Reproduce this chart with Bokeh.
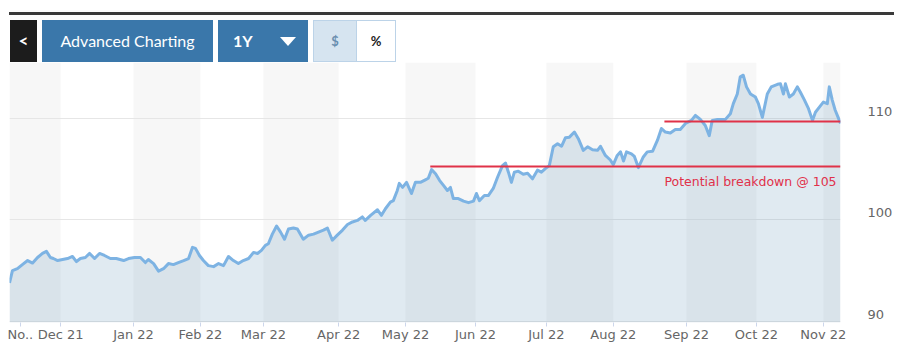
from bokeh.plotting import figure
from bokeh.models import Range1d, FixedTicker, BoxAnnotation, ColumnDataSource, Div, LinearAxis
from bokeh.layouts import column
from bokeh.embed import file_html
from bokeh.resources import INLINE
from bokeh.core.properties import value

# ---- data: trading-day index (ordinal axis) and price ----
day = [0, 0.9, 2.4, 3.9, 5.5, 7.0, 8.5, 10.0, 11.2, 12.4, 13.3, 14.6, 16.1, 17.6, 19.1,
       20.3, 21.5, 23.0, 24.3, 25.8, 27.3, 28.8, 30.6, 32.4, 34.6, 36.1, 37.9, 39.7, 41.2,
       42.1, 43.7, 45.2, 46.7, 48.2, 49.7, 51.2, 52.8, 54.3, 55.5, 56.4, 57.6, 58.8, 60.3,
       61.9, 63.4, 64.9, 66.4, 67.9, 69.4, 70.9, 72.5, 74.0, 75.2, 76.4, 77.6, 78.5, 79.7,
       81.0, 82.2, 83.4, 84.6, 86.1, 87.3, 89.1, 90.7, 92.2, 93.7, 95.2, 96.4, 97.9, 99.4,
       101.0, 102.5, 104.0, 105.5, 107.0, 107.9, 109.5, 111.6, 112.8, 114.0, 115.5, 116.4,
       117.6, 118.2, 119.2, 120.4, 121.9, 123.1, 124.6, 126.1, 127.0, 128.0, 129.2, 130.4,
       131.6, 132.8, 133.7, 134.6, 136.1, 137.7, 139.2, 140.7, 141.6, 142.5, 144.0, 145.2,
       146.7, 148.0, 149.5, 150.4, 151.3, 152.2, 153.1, 154.3, 155.8, 157.1, 158.6, 160.1,
       161.3, 162.5, 163.7, 164.9, 166.2, 167.4, 168.6, 169.8, 171.3, 172.5, 174.0, 175.3,
       176.8, 178.3, 179.2, 180.7, 182.2, 183.1, 184.3, 185.3, 186.2, 187.1, 188.6, 189.5,
       190.7, 192.2, 193.4, 195.0, 196.5, 197.7, 198.9, 200.4, 201.9, 203.4, 205.0, 206.8,
       208.0, 209.5, 211.0, 212.2, 213.1, 214.7, 217.1, 218.6, 219.5, 220.7, 221.6, 222.5,
       223.5, 224.7, 226.2, 227.1, 228.3, 229.8, 231.0, 232.9, 233.8, 234.7, 235.3, 236.5,
       237.7, 238.9, 239.8, 241.0, 242.3, 243.5, 244.4, 245.6, 246.8, 248.0, 248.6, 249.5,
       250.4, 251.4, 252.0]
price = [93.8, 95.0, 95.2, 95.6, 96.0, 95.75, 96.3, 96.7, 96.9, 96.3, 96.2, 96.0, 96.1, 96.2,
         96.4, 95.9, 96.2, 96.3, 96.7, 96.2, 96.7, 96.5, 96.2, 96.2, 96.0, 96.2, 96.3, 96.3,
         95.8, 96.1, 95.7, 94.96, 95.2, 95.7, 95.6, 95.8, 96.0, 96.2, 97.3, 97.2, 96.5, 96.0,
         95.5, 95.4, 95.7, 95.5, 96.4, 96.0, 95.7, 96.0, 96.2, 96.8, 96.7, 97.0, 97.5, 97.65,
         98.6, 99.4, 98.8, 98.1, 99.1, 99.2, 99.1, 98.1, 98.5, 98.6, 98.8, 99.0, 99.2, 98.0,
         98.5, 99.0, 99.55, 99.8, 99.95, 100.3, 99.95, 100.45, 101.0, 100.45, 101.1, 101.75,
         101.9, 102.9, 103.6, 103.2, 103.7, 102.6, 103.7, 103.7, 103.95, 104.1, 104.95,
         104.55, 103.9, 103.4, 102.9, 103.2, 102.1, 102.1, 101.85, 101.7, 101.85, 102.6,
         101.9, 102.4, 102.4, 103.1, 104.2, 105.35, 105.6, 104.7, 103.7, 104.7, 104.8, 104.5,
         104.6, 104.05, 104.9, 104.7, 105.05, 105.35, 107.2, 107.5, 107.25, 108.1, 108.15,
         108.65, 108.0, 106.85, 107.2, 106.9, 106.85, 107.25, 106.35, 105.9, 105.45, 106.35,
         106.7, 105.8, 106.7, 106.5, 106.25, 105.15, 106.2, 106.7, 106.75, 107.85, 109.0,
         108.65, 108.55, 108.9, 108.9, 109.5, 109.8, 110.3, 109.9, 109.3, 108.3, 109.8, 109.9,
         109.9, 110.45, 111.45, 112.4, 114.1, 114.25, 113.1, 112.4, 112.1, 111.45, 110.1,
         112.4, 113.1, 113.35, 113.4, 112.4, 113.4, 112.1, 112.4, 113.1, 112.6, 111.85,
         110.95, 109.8, 110.6, 111.1, 111.6, 111.45, 113.1, 111.8, 110.8, 110.0, 109.5]

month_labels = ["No..", "Dec 21", "Jan 22", "Feb 22", "Mar 22", "Apr 22", "May 22",
                "Jun 22", "Jul 22", "Aug 22", "Sep 22", "Oct 22", "Nov 22"]
month_ticks = [3.3, 15.5, 37.6, 57.9, 77.0, 99.8, 120.1, 141.3, 162.8, 183.1, 205.3,
               226.5, 246.8]
y_ticks = [90, 100, 110]
x_start, x_end = 0, 252
y_start, y_end = 89.9, 115.5

breakdown_level = 105.25
breakdown_start = 127.6
breakdown_text = "Potential breakdown @ 105"
resistance_level = 109.7
resistance_start = 198.6

header_buttons = ["<", "Advanced Charting", "1Y", "$", "%"]

AXIS_FONT = "DejaVu Sans"
FRAME_H = 260
LABEL_RAISE_PX = 7   # value labels sit just above their grid lines

# ---- header (toolbar-like buttons) as HTML ----
btn = ("position:absolute;top:20px;height:42px;display:flex;align-items:center;"
       "justify-content:center;box-sizing:border-box;font-family:Lato,sans-serif;")
header_html = (
    '<div style="position:relative;width:894px;height:62px;background:#fff;">'
    '<div style="position:absolute;left:9px;top:12px;width:885px;height:3px;background:#3a3a3a;"></div>'
    f'<div style="{btn}left:10px;width:27px;background:#1c1c1c;color:#fff;font-size:17px;font-weight:bold;">&lt;</div>'
    f'<div style="{btn}left:42px;width:171px;background:#3a77aa;color:#fff;font-size:16px;">{header_buttons[1]}</div>'
    f'<div style="{btn}left:218px;width:90px;background:#3a77aa;color:#fff;font-size:16px;font-weight:bold;justify-content:flex-start;padding-left:15px;">{header_buttons[2]}'
    '<span style="position:absolute;left:62px;top:17px;width:0;height:0;border-left:8px solid transparent;border-right:8px solid transparent;border-top:9px solid #fff;"></span></div>'
    f'<div style="{btn}left:313px;width:44px;background:#d6e4f0;border:1px solid #bcd3e8;color:#6b8fb0;font-size:13px;font-weight:bold;">{header_buttons[3]}</div>'
    f'<div style="{btn}left:356px;width:40px;background:#fff;border:1px solid #bcd3e8;color:#222;font-size:13px;font-weight:bold;">{header_buttons[4]}</div>'
    '</div>'
)
hdr = Div(text=header_html, width=894, height=62, margin=0)

# ---- chart ----
p = figure(frame_width=831, frame_height=FRAME_H, x_range=Range1d(x_start, x_end),
           y_range=Range1d(y_start, y_end), y_axis_location=None,
           toolbar_location=None, output_backend="svg",
           min_border_left=9, min_border_right=54, min_border_top=0, min_border_bottom=4,
           outline_line_color=None, background_fill_color="white", border_fill_color="white")

# alternating month bands
edges = [x_start] + month_ticks[1:] + [x_end]
for i in range(0, len(edges) - 1, 2):
    p.add_layout(BoxAnnotation(left=edges[i], right=edges[i + 1], fill_color="#f7f7f7",
                               fill_alpha=1, line_color=None, level="image"))

p.xgrid.visible = False
p.ygrid.ticker = FixedTicker(ticks=[t for t in y_ticks if t > y_start])
p.ygrid.grid_line_color = "#e6e6e6"
p.ygrid.grid_line_width = 1

src = ColumnDataSource(dict(day=day, price=price, base=[y_start] * len(day)))
p.varea(x="day", y1="base", y2="price", source=src, fill_color="#6496b9", fill_alpha=0.2)
p.line(x="day", y="price", source=src, line_color="#7db3e3", line_width=3,
       line_join="round")

p.segment(x0=[breakdown_start, resistance_start], x1=[x_end, x_end],
          y0=[breakdown_level, resistance_level], y1=[breakdown_level, resistance_level],
          line_color="#e03248", line_width=2)
p.text(x=[resistance_start], y=[breakdown_level], text=[breakdown_text], y_offset=7,
       text_color="#e0314a", text_font=value("DejaVu Sans"), text_font_size="12.5px",
       text_align="left", text_baseline="top")

xa = p.xaxis[0]
xa.ticker = FixedTicker(ticks=month_ticks)
xa.major_label_overrides = {t: l for t, l in zip(month_ticks, month_labels)}
xa.axis_line_color = None
xa.major_tick_line_color = "#ccd6eb"
xa.major_tick_out = 4
xa.major_tick_in = 0
xa.minor_tick_line_color = None
xa.major_label_standoff = 0
xa.major_label_text_font = AXIS_FONT
xa.major_label_text_font_size = "13px"
xa.major_label_text_color = "#666666"

# right value axis: same scale, labels lifted a few pixels above the grid lines
shift = LABEL_RAISE_PX * (y_end - y_start) / FRAME_H
p.extra_y_ranges = {"labels": Range1d(y_start - shift, y_end - shift)}
ya = LinearAxis(y_range_name="labels", ticker=FixedTicker(ticks=y_ticks))
ya.axis_line_color = None
ya.major_tick_line_color = None
ya.minor_tick_line_color = None
ya.major_tick_out = 0
ya.major_tick_in = 0
ya.major_label_standoff = 27
ya.major_label_text_font = AXIS_FONT
ya.major_label_text_font_size = "13px"
ya.major_label_text_color = "#666666"
p.add_layout(ya, "right")

layout = column(hdr, p, spacing=0)
open("out.html", "w").write(file_html(layout, INLINE))
